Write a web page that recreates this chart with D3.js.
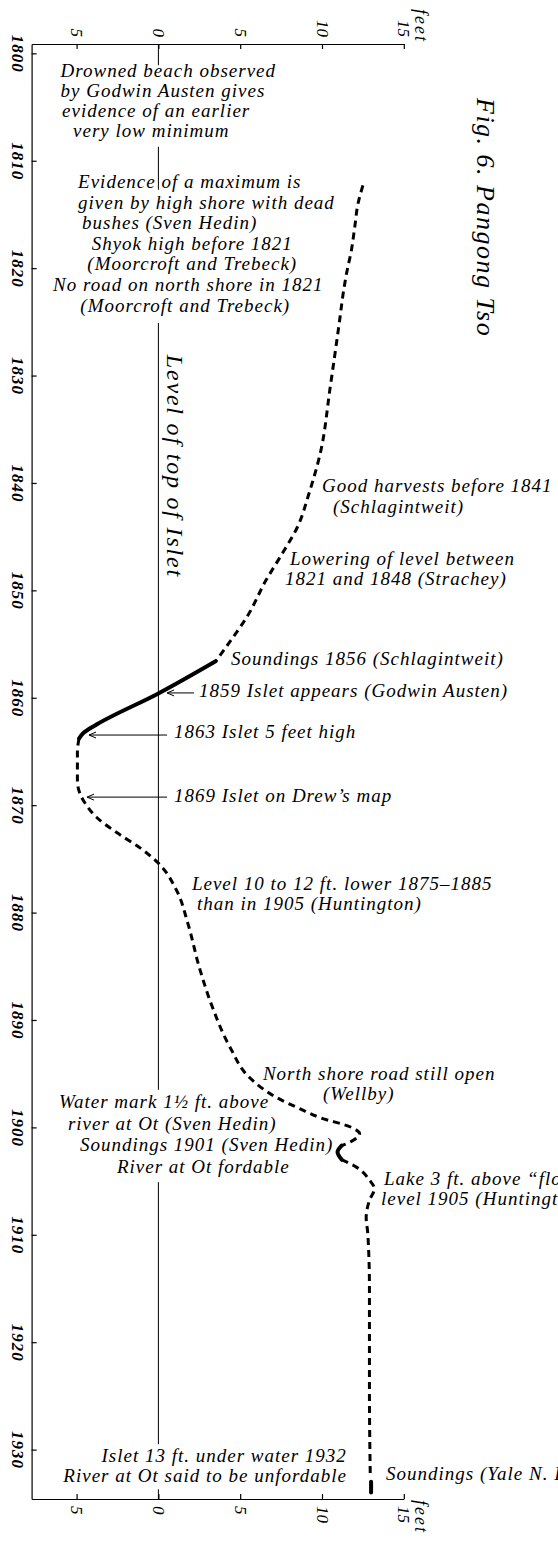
<!DOCTYPE html>
<html>
<head>
<meta charset="utf-8">
<script src="https://cdn.jsdelivr.net/npm/d3@7"></script>
<style>
  body { margin: 0; background: #fff; }
  svg { display: block; }
  text { font-family: "Liberation Serif", serif; font-style: italic; fill: #000; }
  .axis path, .axis line { stroke: #000; stroke-width: 1.2; }
</style>
</head>
<body>
<svg width="558" height="1545"></svg>
<script>
// lake level: year, feet relative to top of islet
var levelYears = [1812.3, 1814.0, 1816.2, 1818.3, 1820.5, 1822.3, 1824.6, 1827.9, 1831.1, 1837.2,
                  1841.0, 1844.1, 1846.5, 1849.0, 1852.5, 1854.5, 1856.6, 1859.6, 1862.6, 1863.3,
                  1863.8, 1865.0, 1867.7, 1868.9, 1870.0, 1871.1, 1872.6, 1874.0, 1875.4, 1877.9,
                  1881.0, 1885.1, 1888.8, 1892.6, 1895.4, 1897.2, 1898.3, 1899.1, 1900.0, 1900.6,
                  1901.3, 1901.7, 1902.3, 1903.0, 1903.7, 1904.9, 1905.7, 1906.8, 1908.4, 1909.9,
                  1915.0, 1924.8, 1932.3, 1933.0, 1934.0];
var levelFeet  = [12.5, 12.2, 12.0, 11.8, 11.5, 11.3, 11.1, 10.8, 10.5, 9.9,
                  9.2, 8.5, 7.6, 6.6, 5.4, 4.5, 3.5, 0.0, -3.9, -4.6,
                  -4.85, -4.95, -4.95, -4.8, -4.4, -3.8, -2.5, -1.1, 0.0, 1.1,
                  1.8, 2.5, 3.3, 4.4, 5.6, 7.2, 8.7, 9.9, 11.8, 12.3,
                  11.8, 11.2, 10.95, 11.2, 12.1, 12.9, 13.2, 12.9, 12.7, 12.8,
                  12.9, 12.9, 12.95, 13.0, 13.0];
// pen for the stretch that starts at each point: d = dashed estimate, s = observed (solid), n = gap
var levelPen   = ["d","d","d","d","d","d","d","d","d","d",
                  "d","d","d","d","d","d","s","s","s","s",
                  "d","d","d","d","d","d","d","d","d","d",
                  "d","d","d","d","d","d","d","d","d","d",
                  "d","s","s","d","d","d","d","d","d","d",
                  "d","d","n","s","s"];

var yearTicks = [1800, 1810, 1820, 1830, 1840, 1850, 1860, 1870, 1880, 1890, 1900, 1910, 1920, 1930];
var feetTicks = [-5, 0, 5, 10, 15];
var feetLabels = ["5", "0", "5", "10", "15"];

// where the islet line is broken by lettering
var zeroGaps = [[1801.1, 1808.7], [1812.7, 1825.1], [1896.5, 1905.1], [1929.5, 1933.7]];

var arrowYears = [1859.55, 1863.47, 1869.25];
var arrowFrom  = [2.18, 0.53, 0.53];
var arrowTo    = [0.53, -4.24, -4.36];

var notes = [
  {ft: -5.98, year: 1802.2, lh: 20, dx: [0, 0, 1.5, 12.5],
   lines: ["Drowned beach observed", "by Godwin Austen gives", "evidence of an earlier", "very low minimum"]},
  {ft: -4.91, year: 1812.54, lh: 20.6, dx: [0, 0, 4],
   lines: ["Evidence of a maximum is", "given by high shore with dead", "bushes (Sven Hedin)"]},
  {ft: 2.07, year: 1818.3, lh: 20.6, anchor: "middle", dx: [0, 0, -4, -7],
   lines: ["Shyok high before 1821", "(Moorcroft and Trebeck)", "No road on north shore in 1821", "(Moorcroft and Trebeck)"]},
  {ft: 10.0, year: 1840.85, lh: 21, dx: [0, 11], lines: ["Good harvests before 1841", "(Schlagintweit)"]},
  {ft: 8.04, year: 1847.65, lh: 20, dx: [0, -5], lines: ["Lowering of level between", "1821 and 1848 (Strachey)"]},
  {ft: 4.44, year: 1856.95, lines: ["Soundings 1856 (Schlagintweit)"]},
  {ft: 2.48, year: 1859.93, lines: ["1859 Islet appears (Godwin Austen)"]},
  {ft: 0.95, year: 1863.75, lines: ["1863 Islet 5 feet high"]},
  {ft: 0.95, year: 1869.71, lines: ["1869 Islet on Drew\u2019s map"]},
  {ft: 2.05, year: 1877.9, lh: 20, dx: [0, 5], lines: ["Level 10 to 12 ft. lower 1875\u20131885", "than in 1905 (Huntington)"]},
  {ft: 6.39, year: 1895.6, lh: 20, dx: [0, 60], lines: ["North shore road still open", "(Wellby)"]},
  {ft: -6.08, year: 1898.2, lh: 21.7, dx: [0, 9, 21, 58],
   lines: ["Water mark 1\u00bd ft. above", "river at Ot (Sven Hedin)", "Soundings 1901 (Sven Hedin)", "River at Ot fordable"]},
  {ft: 13.79, year: 1905.4, lh: 20, dx: [0, -3], lines: ["Lake 3 ft. above \u201cflood\u201d", "level 1905 (Huntington)"]},
  {ft: 11.52, year: 1931.2, lh: 20, anchor: "end", lines: ["Islet 13 ft. under water 1932", "River at Ot said to be unfordable"]},
  {ft: 13.91, year: 1932.85, lines: ["Soundings (Yale N. India Expedition)"]}
];

var svg = d3.select("svg");

var x = d3.scaleLinear().domain([-7.75, 15]).range([31.6, 403.8]);
var y = d3.scaleLinear().domain([1799.13, 1934.6]).range([44, 1499]);

svg.append("defs").append("marker")
    .attr("id", "head")
    .attr("viewBox", "-9 -5 10 10")
    .attr("refX", 0).attr("refY", 0)
    .attr("markerWidth", 10).attr("markerHeight", 10)
    .attr("markerUnits", "userSpaceOnUse")
    .attr("orient", "auto")
    .append("path")
    .attr("d", "M-7,-3L0,0L-7,3")
    .attr("fill", "none")
    .attr("stroke", "#000")
    .attr("stroke-width", 1);

// axes
var yAxisG = svg.append("g").attr("class", "axis")
    .attr("transform", "translate(" + x.range()[0] + ",0)")
    .call(d3.axisLeft(y).tickValues(yearTicks).tickSizeInner(-5).tickSizeOuter(0).tickFormat(d3.format("d")));
yAxisG.selectAll("text")
    .attr("x", 0).attr("y", 19.5).attr("dy", 0)
    .attr("transform", "rotate(90)")
    .attr("text-anchor", "middle")
    .style("font-size", "17px").style("font-weight", "bold").style("letter-spacing", "1px");

var xTopG = svg.append("g").attr("class", "axis")
    .attr("transform", "translate(0," + y.range()[0] + ")")
    .call(d3.axisTop(x).tickValues(feetTicks).tickSizeInner(-5).tickSizeOuter(0)
      .tickFormat(function(d, i) { return feetLabels[i]; }));
xTopG.selectAll("text")
    .attr("x", -7).attr("y", 0).attr("dy", "0.35em")
    .attr("transform", "rotate(90)")
    .attr("text-anchor", "end")
    .style("font-size", "17px");

var xBottomG = svg.append("g").attr("class", "axis")
    .attr("transform", "translate(0," + y.range()[1] + ")")
    .call(d3.axisBottom(x).tickValues(feetTicks).tickSizeInner(-5).tickSizeOuter(0)
      .tickFormat(function(d, i) { return feetLabels[i]; }));
xBottomG.selectAll("text")
    .attr("x", 7).attr("y", 0).attr("dy", "0.35em")
    .attr("transform", "rotate(90)")
    .attr("text-anchor", "start")
    .style("font-size", "17px");
svg.selectAll(".axis text").style("font-family", "'Liberation Serif', serif").style("font-style", "italic");

svg.append("text")
    .attr("transform", "translate(421," + (y.range()[0] - 1) + ") rotate(90)")
    .attr("text-anchor", "end").attr("dy", "0.35em")
    .style("font-size", "18px").style("letter-spacing", "2px")
    .text("feet");
svg.append("text")
    .attr("transform", "translate(421," + (y.range()[1] + 1) + ") rotate(90)")
    .attr("text-anchor", "start").attr("dy", "0.35em")
    .style("font-size", "18px").style("letter-spacing", "2px")
    .text("feet");

// level of top of islet, broken where lettering crosses it
var bounds = [y.domain()[0]];
zeroGaps.forEach(function(g) { bounds.push(g[0], g[1]); });
bounds.push(y.domain()[1]);
var zeroSegs = d3.range(0, bounds.length, 2).map(function(i) { return [bounds[i], bounds[i + 1]]; });
svg.append("g").selectAll("line")
    .data(zeroSegs)
    .enter().append("line")
    .attr("x1", x(0)).attr("x2", x(0))
    .attr("y1", function(d) { return y(d[0]); })
    .attr("y2", function(d) { return y(d[1]); })
    .attr("stroke", "#000").attr("stroke-width", 1);

svg.append("text")
    .attr("transform", "translate(" + x(0.5) + "," + y(1828.07) + ") rotate(90)")
    .style("font-size", "24px").style("letter-spacing", "1.8px")
    .text("Level of top of Islet");

svg.append("text")
    .attr("transform", "translate(477,98) rotate(90)")
    .style("font-size", "26px").style("letter-spacing", "1.5px")
    .text("Fig. 6. Pangong Tso");

// the level curve, split into dashed and solid stretches
var pts = levelYears.map(function(yr, i) { return {year: yr, ft: levelFeet[i], pen: levelPen[i]}; });
var pieces = [], cur = null;
for (var i = 0; i < pts.length - 1; i++) {
    if (!cur || cur.pen !== pts[i].pen) { cur = {pen: pts[i].pen, pts: [pts[i]]}; pieces.push(cur); }
    cur.pts.push(pts[i + 1]);
}
pieces = pieces.filter(function(p) { return p.pen !== "n"; });

var line = d3.line()
    .x(function(d) { return x(d.ft); })
    .y(function(d) { return y(d.year); })
    .curve(d3.curveMonotoneY);

svg.append("g").selectAll("path")
    .data(pieces)
    .enter().append("path")
    .attr("d", function(d) { return line(d.pts); })
    .attr("fill", "none")
    .attr("stroke", "#000")
    .attr("stroke-width", function(d) { return d.pen === "s" ? 4 : 3; })
    .attr("stroke-linecap", function(d) { return d.pen === "s" ? "round" : "butt"; })
    .attr("stroke-dasharray", function(d) { return d.pen === "s" ? null : "7,5"; });

// pointers
svg.append("g").selectAll("line")
    .data(arrowYears)
    .enter().append("line")
    .attr("x1", function(d, i) { return x(arrowFrom[i]); })
    .attr("x2", function(d, i) { return x(arrowTo[i]); })
    .attr("y1", function(d) { return y(d); })
    .attr("y2", function(d) { return y(d); })
    .attr("stroke", "#000").attr("stroke-width", 1)
    .attr("marker-end", "url(#head)");

// notes
var note = svg.append("g").selectAll("text")
    .data(notes)
    .enter().append("text")
    .attr("text-anchor", function(d) { return d.anchor || "start"; })
    .style("font-size", "19px").style("letter-spacing", "1px");
note.selectAll("tspan")
    .data(function(d) { return d.lines.map(function(t, i) {
        return {t: t, x: x(d.ft) + (d.dx ? d.dx[i] : 0), y: y(d.year) + i * (d.lh || 20)}; }); })
    .enter().append("tspan")
    .attr("x", function(d) { return d.x; })
    .attr("y", function(d) { return d.y; })
    .text(function(d) { return d.t; });
</script>
</body>
</html>
